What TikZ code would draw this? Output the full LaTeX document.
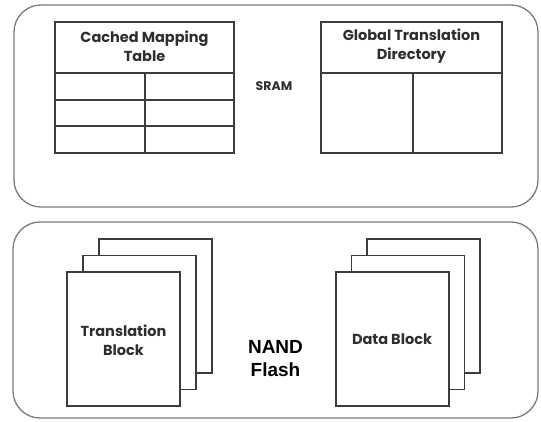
\documentclass[tikz,border=0pt]{standalone}
\usepackage{fontspec}
\setmainfont{Poppins}
\newfontfamily\arialfont{Liberation Sans}
\definecolor{boxgray}{HTML}{7A7A7A}
\definecolor{linegray}{HTML}{3C3C3C}
\definecolor{txt}{HTML}{2E2E2E}
\tikzset{
  roundbox/.style={draw=boxgray, line width=1.3pt, rounded corners=27pt, anchor=north west, inner sep=0pt, outer sep=0pt},
  tablebox/.style={draw=linegray, line width=1.1pt, anchor=north west, inner sep=0pt, outer sep=0pt},
  tline/.style={draw=linegray, line width=1.1pt},
  pagebox/.style={draw=linegray, line width=1.1pt, fill=white, anchor=north west, inner sep=0pt, outer sep=0pt, minimum width=113pt, minimum height=134pt},
  lbl/.style={text=txt, font=\bfseries\fontsize{14.5}{19}\selectfont, align=center, inner sep=0pt},
  biglbl/.style={text=black, font=\arialfont\bfseries\fontsize{19}{23}\selectfont, align=center, inner sep=0pt}
}
\begin{document}
\begin{tikzpicture}[x=1pt, y=-1pt]
\useasboundingbox (0,0) rectangle (541,421);
% SRAM region
\node[roundbox, minimum width=524pt, minimum height=202pt] (sram) at (14,5) {};
\node[tablebox, minimum width=179pt, minimum height=131pt] (cmt) at (55,22) {};
\draw[tline] (55,73) -- (234,73);
\draw[tline] (55,100) -- (234,100);
\draw[tline] (55,126) -- (234,126);
\draw[tline] (145,73) -- (145,153);
\node[lbl] (cmtlabel) at (144.5,46) {Cached Mapping\\Table};
\node[tablebox, minimum width=181pt, minimum height=131pt] (gtd) at (321,22) {};
\draw[tline] (321,73) -- (502,73);
\draw[tline] (413,73) -- (413,153);
\node[lbl] (gtdlabel) at (411.5,46) {Global Translation\\Directory};
\node[lbl, font=\bfseries\fontsize{12.5}{14}\selectfont] (sramlabel) at (274,86) {SRAM};
% NAND region
\node[roundbox, minimum width=525pt, minimum height=196pt] (nand) at (13,222) {};
\node[pagebox] (tb3) at (99,239) {};
\node[pagebox] (tb2) at (83,255.5) {};
\node[pagebox] (tb1) at (67,272) {};
\node[lbl] (tblabel) at (123.5,340) {Translation\\Block};
\node[pagebox] (db3) at (367,239) {};
\node[pagebox] (db2) at (351.5,255.5) {};
\node[pagebox] (db1) at (336,272) {};
\node[lbl] (dblabel) at (392,339) {Data Block};
\node[biglbl] (nandlabel) at (275.5,359) {NAND\\Flash};
\end{tikzpicture}
\end{document}
